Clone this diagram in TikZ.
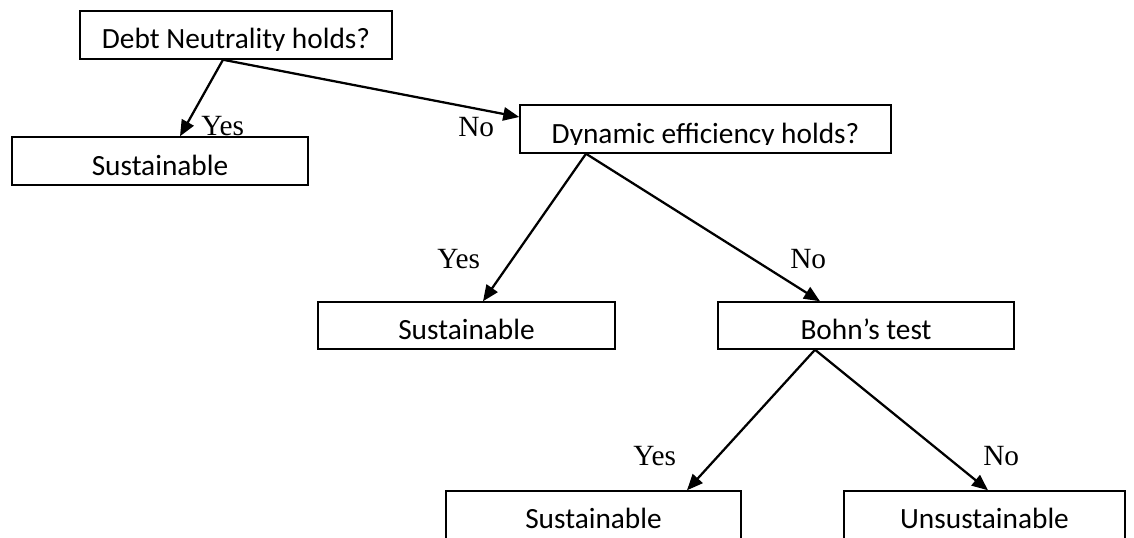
\documentclass[tikz,border=0pt]{standalone}
\usepackage{fontspec}
\setmainfont{Liberation Serif}
\newfontfamily\boxfont{Carlito}
\usetikzlibrary{arrows.meta, calc}

\tikzset{
  question/.style={draw, line width=1.1pt, inner sep=0pt},
  boxtext/.style={font=\boxfont\fontsize{22}{26}\selectfont, anchor=base, inner sep=0pt},
  answer/.style={font=\fontsize{22}{26}\selectfont, anchor=base west, inner sep=0pt},
  branch/.style={-{Triangle[length=12pt,width=10pt]}, line width=1.7pt},
}

\begin{document}
\begin{tikzpicture}[x=0.75pt, y=-0.75pt]
  \useasboundingbox (0,0) rectangle (1134,538);
  % boxes
  \node[question, minimum width=234pt, minimum height=36pt] (dn) at (236,35) {};
  \node[question, minimum width=222pt, minimum height=36pt] (sus1) at (160,161) {};
  \node[question, minimum width=278.25pt, minimum height=36pt] (de) at (705.5,129) {};
  \node[question, minimum width=222.75pt, minimum height=35.25pt] (sus2) at (466.5,325.5) {};
  \node[question, minimum width=222pt, minimum height=35.25pt] (bohn) at (866,325.5) {};
  \node[question, minimum width=221.25pt, minimum height=37.5pt] (sus3) at (593.5,516) {};
  \node[question, minimum width=210.75pt, minimum height=37.5pt] (unsus) at (984.5,516) {};
  % box texts, cut at the baseline
  \begin{scope}\clip (dn.north west) rectangle ($(dn.south east)+(0,-9)$);
    \node[boxtext] (dn-text) at ($(dn.south)+(0,-11)$) {Debt Neutrality holds?};\end{scope}
  \begin{scope}\clip (sus1.north west) rectangle ($(sus1.south east)+(0,-9)$);
    \node[boxtext] (sus1-text) at ($(sus1.south)+(0,-10)$) {Sustainable};\end{scope}
  \begin{scope}\clip (de.north west) rectangle ($(de.south east)+(0,-9)$);
    \node[boxtext] (de-text) at ($(de.south)+(0,-10)$) {Dynamic efficiency holds?};\end{scope}
  \begin{scope}\clip (sus2.north west) rectangle ($(sus2.south east)+(0,-9)$);
    \node[boxtext] (sus2-text) at ($(sus2.south)+(0,-10)$) {Sustainable};\end{scope}
  \begin{scope}\clip (bohn.north west) rectangle ($(bohn.south east)+(0,-9)$);
    \node[boxtext] (bohn-text) at ($(bohn.south)+(0,-10)$) {Bohn’s test};\end{scope}
  \node[boxtext] (sus3-text) at ($(sus3.north)+(0,38)$) {Sustainable};
  \node[boxtext] (unsus-text) at ($(unsus.north)+(0,38)$) {Unsustainable};
  % branches
  \draw[branch] ($(dn.south)+(-13,0)$) -- ($(sus1.north)+(20,0)$);
  \draw[branch] ($(dn.south)+(-13,0)$) -- ($(de.west)+(0,-12)$);
  \draw[branch] ($(de.south)+(-119.5,0)$) -- ($(sus2.north)+(16.5,0)$);
  \draw[branch] ($(de.south)+(-119.5,0)$) -- ($(bohn.north)+(-46,0)$);
  \draw[branch] ($(bohn.south)+(-51,0)$) -- ($(sus3.north)+(93.5,0)$);
  \draw[branch] ($(bohn.south)+(-51,0)$) -- ($(unsus.north)+(3.5,0)$);
  % answers
  \node[answer] (yes1) at (201,136) {Yes};
  \node[answer] (no1) at (458,137) {No};
  \node[answer] (yes2) at (437,268) {Yes};
  \node[answer] (no2) at (790,268) {No};
  \node[answer] (yes3) at (633,465) {Yes};
  \node[answer] (no3) at (983,465) {No};
\end{tikzpicture}
\end{document}
